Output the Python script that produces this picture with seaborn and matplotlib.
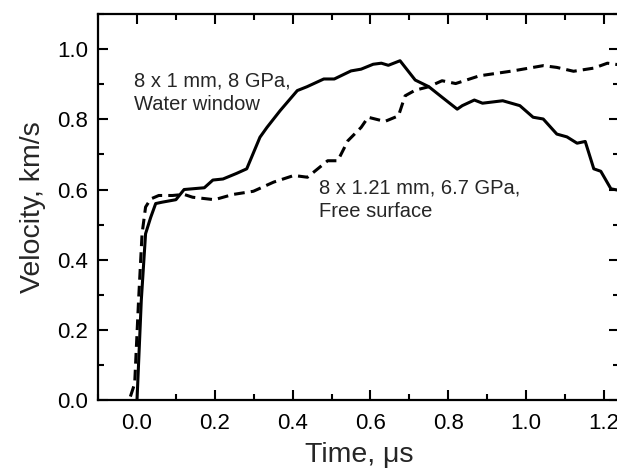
import numpy as np
import pandas as pd
import matplotlib
matplotlib.use("Agg")
import matplotlib.pyplot as plt
import seaborn as sns
from matplotlib.ticker import MultipleLocator

sns.set_style("ticks")
plt.rcParams['font.family'] = ['Liberation Sans', 'DejaVu Sans']

# Water window record (solid)
t_water = [0.0, 0.011, 0.022, 0.035, 0.048, 0.065, 0.10, 0.121, 0.173, 0.195,
           0.221, 0.256, 0.282, 0.316, 0.334, 0.368, 0.412, 0.437, 0.48, 0.507,
           0.55, 0.576, 0.607, 0.628, 0.646, 0.676, 0.715, 0.75, 0.784, 0.823,
           0.836, 0.867, 0.888, 0.94, 0.984, 1.018, 1.044, 1.079, 1.105, 1.131,
           1.152, 1.174, 1.192, 1.218, 1.242]
v_water = [0.0, 0.284, 0.474, 0.52, 0.56, 0.564, 0.571, 0.60, 0.605, 0.627,
           0.63, 0.646, 0.659, 0.749, 0.777, 0.825, 0.882, 0.893, 0.915, 0.915,
           0.938, 0.943, 0.957, 0.96, 0.954, 0.967, 0.912, 0.893, 0.863, 0.829,
           0.839, 0.855, 0.846, 0.853, 0.839, 0.806, 0.801, 0.758, 0.75, 0.732,
           0.737, 0.659, 0.652, 0.602, 0.597]

# Free surface record (dashed)
t_free = [-0.017, -0.006, 0.004, 0.013, 0.022, 0.035, 0.056, 0.091, 0.121, 0.143,
          0.199, 0.247, 0.299, 0.351, 0.403, 0.438, 0.49, 0.516, 0.542, 0.576,
          0.594, 0.637, 0.672, 0.689, 0.715, 0.75, 0.784, 0.819, 0.88, 0.966,
          1.044, 1.079, 1.122, 1.174, 1.209, 1.242]
v_free = [0.01, 0.047, 0.284, 0.474, 0.55, 0.573, 0.583, 0.583, 0.586, 0.578,
          0.571, 0.586, 0.595, 0.621, 0.64, 0.635, 0.682, 0.682, 0.739, 0.777,
          0.806, 0.794, 0.81, 0.867, 0.883, 0.893, 0.91, 0.902, 0.924, 0.938,
          0.953, 0.948, 0.937, 0.946, 0.96, 0.955]

df_water = pd.DataFrame({"Time": t_water, "Velocity": v_water})
df_free = pd.DataFrame({"Time": t_free, "Velocity": v_free})

fig = plt.figure(figsize=(6.17, 4.69), dpi=100)
ax = fig.add_axes([0.159, 0.147, 0.845, 0.823])

sns.lineplot(data=df_water, x="Time", y="Velocity", ax=ax, color="black",
             lw=2.2, sort=False, estimator=None)
sns.lineplot(data=df_free, x="Time", y="Velocity", ax=ax, color="black",
             lw=2.2, sort=False, estimator=None, dashes=False, linestyle=(0, (3.5, 2)))

ax.set_xlim(-0.1, 1.24)
ax.set_ylim(0, 1.1)
ax.xaxis.set_major_locator(MultipleLocator(0.2))
ax.xaxis.set_minor_locator(MultipleLocator(0.1))
ax.yaxis.set_major_locator(MultipleLocator(0.2))
ax.yaxis.set_minor_locator(MultipleLocator(0.1))
ax.tick_params(which="both", direction="in", top=True, right=True, width=1.5,
               labelsize=16, colors="black")
ax.tick_params(which="major", length=7)
ax.tick_params(which="minor", length=4)
ax.tick_params(axis="x", pad=9)
ax.tick_params(axis="y", pad=7)
for s in ax.spines.values():
    s.set_linewidth(1.6)
    s.set_color("black")

ax.set_xlabel("Time, \u03bcs", fontsize=20.5, labelpad=6)
ax.set_ylabel("Velocity, km/s", fontsize=20.5, labelpad=8)

ax.text(-0.008, 0.875, "8 x 1 mm, 8 GPa,\nWater window", fontsize=14.5,
        va="center", ha="left", linespacing=1.3)
ax.text(0.467, 0.57, "8 x 1.21 mm, 6.7 GPa,\nFree surface", fontsize=14.5,
        va="center", ha="left", linespacing=1.3)

fig.savefig("out.png", dpi=100)
